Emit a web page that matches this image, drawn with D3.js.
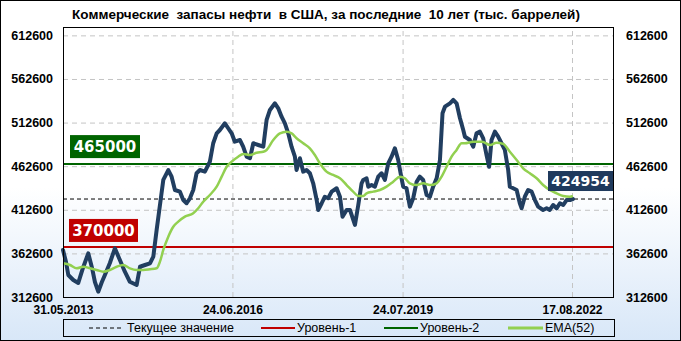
<!DOCTYPE html>
<html><head><meta charset="utf-8">
<script src="https://cdn.jsdelivr.net/npm/d3@7/dist/d3.min.js"></script>
<style>html,body{margin:0;padding:0;background:#fff;} svg{display:block;}</style>
</head><body>
<svg id="chart" width="681" height="341"></svg>
<script>
const title = "Коммерческие  запасы нефти  в США, за последние  10 лет (тыс. баррелей)";
const stockDates = ["2013-05-31","2013-06-20","2013-07-05","2013-08-07","2013-09-09","2013-10-10","2013-11-14","2013-12-09","2013-12-28","2014-01-19",
"2014-02-12","2014-03-04","2014-04-06","2014-05-09","2014-06-11","2014-07-14","2014-08-16","2014-09-30","2014-10-22","2014-11-24",
"2014-12-27","2015-01-18","2015-02-09","2015-03-03","2015-03-25","2015-04-27","2015-05-19","2015-06-10","2015-07-13","2015-08-04",
"2015-08-26","2015-09-17","2015-10-09","2015-10-31","2015-11-22","2015-12-25","2016-01-27","2016-02-18","2016-03-12","2016-04-02",
"2016-05-05","2016-05-27","2016-06-19","2016-07-10","2016-08-13","2016-09-03","2016-09-26","2016-10-18","2016-11-09","2016-12-12",
"2017-01-14","2017-02-05","2017-02-27","2017-04-01","2017-04-23","2017-05-15","2017-06-06","2017-06-28","2017-07-20","2017-08-11",
"2017-08-22","2017-09-13","2017-10-05","2017-10-27","2017-11-18","2017-12-10","2018-01-02","2018-01-12","2018-02-04","2018-02-25",
"2018-03-19","2018-04-11","2018-05-14","2018-06-05","2018-06-22","2018-07-19","2018-08-10","2018-09-12","2018-10-04","2018-10-26",
"2018-11-06","2018-11-28","2018-12-09","2018-12-31","2019-01-22","2019-02-13","2019-03-07","2019-03-29","2019-04-20","2019-05-12",
"2019-06-03","2019-06-25","2019-07-17","2019-07-28","2019-08-19","2019-09-10","2019-10-02","2019-10-25","2019-11-15","2019-12-07",
"2019-12-30","2020-01-21","2020-02-11","2020-03-05","2020-03-27","2020-04-13","2020-04-29","2020-06-01","2020-06-23","2020-07-15",
"2020-08-06","2020-08-28","2020-09-08","2020-10-11","2020-11-02","2020-11-24","2020-12-16","2021-01-07","2021-01-29","2021-02-15",
"2021-03-03","2021-03-25","2021-04-16","2021-05-08","2021-05-30","2021-06-21","2021-07-02","2021-07-24","2021-08-16","2021-09-06",
"2021-09-18","2021-10-09","2021-10-31","2021-11-23","2021-12-15","2022-01-05","2022-02-07","2022-03-02","2022-03-23","2022-04-14",
"2022-05-07","2022-05-29","2022-06-20","2022-07-12","2022-08-03","2022-08-23"];
const stockValues = [366500,352700,337800,332100,328700,345900,362700,345900,329800,318700,
329800,337800,351600,368400,355000,341600,330100,326400,347300,349300,
351200,358800,389400,418100,446800,458200,450600,435300,433400,423800,
420100,425800,435300,454500,458200,456300,467800,488900,500300,504100,
511800,506100,500300,490700,492600,485000,473500,471700,488900,486900,
485000,515600,527100,534700,529000,519400,511800,500300,485000,473500,
458200,471700,456300,458200,454500,443000,423800,412400,420100,427600,
425800,433400,437300,427600,404700,412400,412400,395200,418100,443000,
446800,448700,439100,441000,439100,450600,454500,446800,465900,473500,
483100,469700,448700,439100,437300,416200,425800,444800,450600,446800,
429600,427600,439100,448700,469700,523300,530800,534700,538500,534700,
517900,504100,496400,492600,485000,500300,502200,494600,475400,462000,
492600,502200,496400,488900,481200,458200,439100,437300,435300,420100,
414300,427600,435300,433400,423800,416200,412400,414300,412400,418100,
414300,420100,418100,423800,423800,424954];
const emaDates = ["2013-05-31","2013-07-16","2013-08-29","2013-10-12","2013-11-25","2014-01-08","2014-02-21","2014-04-06","2014-05-21","2014-07-03",
"2014-08-16","2014-09-30","2014-11-12","2014-12-27","2015-02-09","2015-03-03","2015-03-25","2015-04-27","2015-05-30","2015-07-02",
"2015-08-15","2015-10-09","2015-11-11","2015-12-14","2016-01-27","2016-03-12","2016-04-14","2016-05-17","2016-06-19","2016-08-01",
"2016-09-03","2016-10-18","2016-12-01","2017-01-14","2017-02-05","2017-03-21","2017-05-04","2017-06-17","2017-07-20","2017-08-22",
"2017-10-05","2017-11-18","2017-12-21","2018-01-23","2018-03-08","2018-04-21","2018-06-05","2018-07-19","2018-08-31","2018-10-04",
"2018-11-06","2018-11-28","2019-01-11","2019-02-24","2019-04-09","2019-05-23","2019-07-06","2019-08-08","2019-09-10","2019-10-25",
"2019-12-07","2020-01-21","2020-03-05","2020-04-07","2020-05-10","2020-06-12","2020-07-15","2020-08-17","2020-09-08","2020-11-02",
"2020-12-30","2021-02-22","2021-04-05","2021-05-19","2021-07-02","2021-08-16","2021-09-28","2021-11-11","2021-12-26","2022-02-07",
"2022-03-23","2022-05-07","2022-06-20","2022-08-03","2022-08-23"];
const emaValues = [351200,349300,345500,347300,345500,343600,341600,343600,347300,349300,
345500,343600,343600,344400,345500,353100,366500,381800,393200,399000,
404700,408600,414300,421900,429600,439100,450600,462000,467800,473500,
476600,475400,478100,479200,481200,492600,500300,502200,500300,494600,
488900,483100,475400,465900,456300,452500,448700,441000,433400,428400,
428400,431500,433400,435300,439100,444800,450600,448700,443000,441000,
443000,441000,443000,450600,462000,473500,481200,488900,488900,490700,
490700,486900,489500,488100,479200,469700,460200,454500,448700,441000,
435300,431500,428400,427600,428400];
const yTicks = [312600, 362600, 412600, 462600, 512600, 562600, 612600];
const xTickDates = ["2013-05-31", "2016-06-24", "2019-07-24", "2022-08-17"];
const xTickLabels = ["31.05.2013", "24.06.2016", "24.07.2019", "17.08.2022"];
const xDomain = ["2013-05-31", "2023-05-15"];
const yDomain = [312600, 622200];
const level1 = 370000;
const level2 = 465000;
const currentValue = 424954;
const legendLabels = ["Текущее значение", "Уровень-1", "Уровень-2", "EMA(52)"];

const W = 681, H = 341;
const m = {left: 63, right: 613, top: 27, bottom: 297};
const parse = d3.timeParse("%Y-%m-%d");
const svg = d3.select("#chart");

const defs = svg.append("defs");
const grad = defs.append("linearGradient").attr("id", "bg").attr("x1", 0).attr("y1", 0).attr("x2", 0).attr("y2", 1);
grad.append("stop").attr("offset", "0%").attr("stop-color", "#ffffff");
grad.append("stop").attr("offset", "55%").attr("stop-color", "#ffffff");
grad.append("stop").attr("offset", "100%").attr("stop-color", "#d8e7f8");

svg.append("rect").attr("x", 0.5).attr("y", 0.5).attr("width", W - 1).attr("height", H - 1)
  .attr("fill", "url(#bg)").attr("stroke", "#000").attr("stroke-width", 1);

const x = d3.scaleTime().domain(xDomain.map(parse)).range([m.left, m.right]);
const y = d3.scaleLinear().domain(yDomain).range([m.bottom, m.top]);

// horizontal grid
svg.append("g").attr("transform", `translate(${m.left},0)`)
  .call(d3.axisLeft(y).tickValues(yTicks).tickSize(-(m.right - m.left)).tickFormat(""))
  .call(g => g.select(".domain").remove())
  .call(g => g.selectAll("line").attr("stroke", "#c4c4c4").attr("stroke-dasharray", "5,4"));
// vertical grid
svg.append("g").attr("transform", `translate(0,${m.bottom})`)
  .call(d3.axisBottom(x).tickValues(xTickDates.map(parse)).tickSize(-(m.bottom - m.top)).tickFormat(""))
  .call(g => g.select(".domain").remove())
  .call(g => g.selectAll("line").attr("stroke", "#c4c4c4").attr("stroke-dasharray", "5,4"));

// axis labels
const axisFont = "'Liberation Sans', Arial, sans-serif";
svg.append("g").attr("transform", `translate(${m.left},0)`)
  .call(d3.axisLeft(y).tickValues(yTicks).tickSize(0).tickPadding(10).tickFormat(d3.format("d")))
  .call(g => g.select(".domain").remove())
  .call(g => g.selectAll("text").attr("font-family", axisFont).attr("font-weight", "bold").attr("font-size", 12.5).attr("fill", "#000"));
svg.append("g").attr("transform", `translate(${m.right},0)`)
  .call(d3.axisRight(y).tickValues(yTicks).tickSize(0).tickPadding(13).tickFormat(d3.format("d")))
  .call(g => g.select(".domain").remove())
  .call(g => g.selectAll("text").attr("font-family", axisFont).attr("font-weight", "bold").attr("font-size", 12.5).attr("fill", "#000"));
svg.append("g").attr("transform", `translate(0,${m.bottom})`)
  .call(d3.axisBottom(x).tickValues(xTickDates.map(parse)).tickSize(0).tickPadding(8).tickFormat((d, i) => xTickLabels[i]))
  .call(g => g.select(".domain").remove())
  .call(g => g.selectAll("text").attr("font-family", axisFont).attr("font-weight", "bold").attr("font-size", 12).attr("fill", "#000"));

// level lines
svg.append("line").attr("x1", m.left).attr("x2", m.right).attr("y1", y(level1)).attr("y2", y(level1))
  .attr("stroke", "#c00000").attr("stroke-width", 2);
svg.append("line").attr("x1", m.left).attr("x2", m.right).attr("y1", y(level2)).attr("y2", y(level2))
  .attr("stroke", "#006400").attr("stroke-width", 2);
svg.append("line").attr("x1", m.left).attr("x2", m.right).attr("y1", y(currentValue)).attr("y2", y(currentValue))
  .attr("stroke", "#000").attr("stroke-width", 1).attr("stroke-dasharray", "4,3");

// series
const stock = stockDates.map((d, i) => ({date: parse(d), value: stockValues[i]}));
const ema = emaDates.map((d, i) => ({date: parse(d), value: emaValues[i]}));
const line = d3.line().x(d => x(d.date)).y(d => y(d.value));
svg.append("path").datum(stock).attr("d", line).attr("fill", "none")
  .attr("stroke", "#213e60").attr("stroke-width", 4).attr("stroke-linejoin", "round").attr("stroke-linecap", "round");
svg.append("path").datum(ema).attr("d", line.curve(d3.curveMonotoneX)).attr("fill", "none")
  .attr("stroke", "#92d050").attr("stroke-width", 2.5).attr("stroke-linejoin", "round");

// plot frame
svg.append("rect").attr("x", m.left + 0.5).attr("y", m.top + 0.5).attr("width", m.right - m.left).attr("height", m.bottom - m.top)
  .attr("fill", "none").attr("stroke", "#000").attr("stroke-width", 1);

// level labels
const boxFont = "'DejaVu Sans', Verdana, sans-serif";
function labelBox(cx, cyBottom, w, h, fill, text, fs) {
  svg.append("rect").attr("x", cx).attr("y", cyBottom - h).attr("width", w).attr("height", h).attr("fill", fill);
  svg.append("text").attr("x", cx + w / 2).attr("y", cyBottom - h / 2).attr("dy", "0.36em")
    .attr("text-anchor", "middle").attr("font-family", boxFont).attr("font-weight", "bold")
    .attr("font-size", fs).attr("fill", "#fff").text(text);
}
labelBox(70, y(level2) - 6, 70, 23, "#006400", d3.format("d")(level2), 15);
labelBox(69, y(level1) - 5, 69, 23, "#c00000", d3.format("d")(level1), 15);
labelBox(548, y(currentValue) - 8, 65, 20, "#1f3a5d", d3.format("d")(currentValue), 14);

// title
svg.append("text").attr("x", 326).attr("y", 19).attr("text-anchor", "middle")
  .attr("font-family", axisFont).attr("font-weight", "bold").attr("font-size", 13.5)
  .style("white-space", "pre").attr("fill", "#000").text(title);

// legend
svg.append("rect").attr("x", 63.5).attr("y", 319.5).attr("width", 551).attr("height", 17)
  .attr("fill", "none").attr("stroke", "#000").attr("stroke-width", 1);
const legY = 328;
const legItems = [
  {x1: 89, x2: 121, color: "#000", w: 1, dash: "4,3", tx: 127},
  {x1: 261, x2: 295, color: "#c00000", w: 2, dash: null, tx: 297},
  {x1: 384, x2: 418, color: "#006400", w: 2, dash: null, tx: 420},
  {x1: 508, x2: 543, color: "#92d050", w: 3, dash: null, tx: 545}
];
legItems.forEach((it, i) => {
  const l = svg.append("line").attr("x1", it.x1).attr("x2", it.x2).attr("y1", legY).attr("y2", legY)
    .attr("stroke", it.color).attr("stroke-width", it.w);
  if (it.dash) l.attr("stroke-dasharray", it.dash);
  svg.append("text").attr("x", it.tx).attr("y", legY).attr("dy", "0.35em")
    .attr("font-family", axisFont).attr("font-size", 12.5).attr("fill", "#000").text(legendLabels[i]);
});
</script>
</body></html>
